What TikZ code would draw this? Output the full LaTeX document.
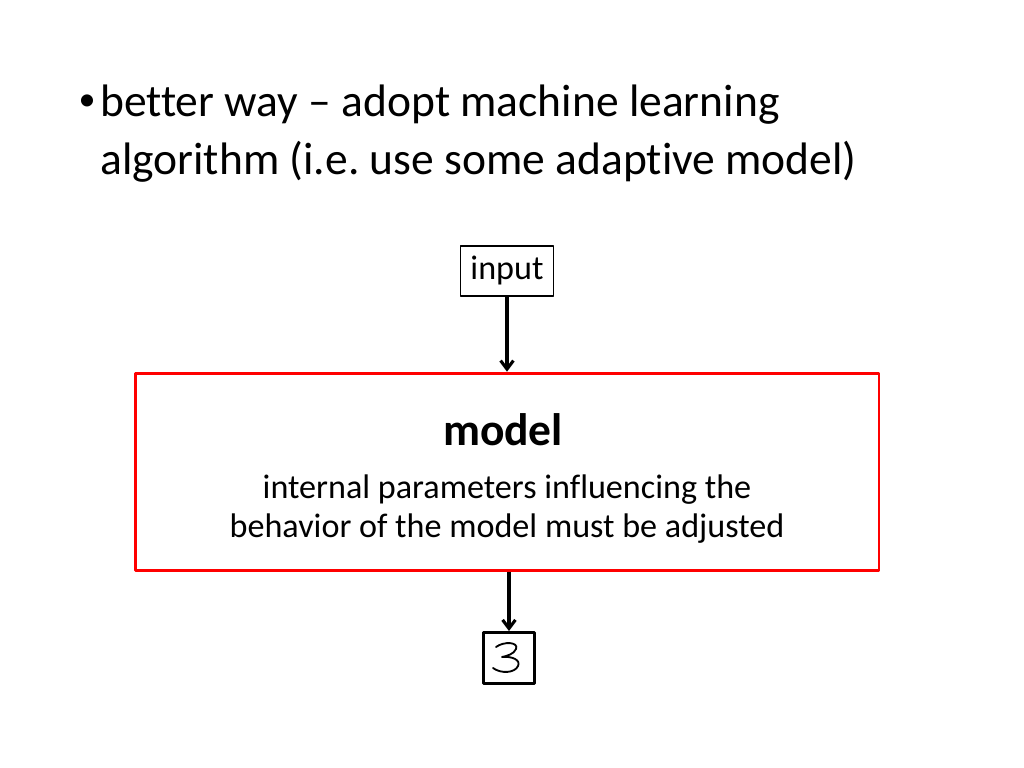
\documentclass[tikz,border=0pt]{standalone}
\usepackage{fontspec}
\setmainfont{Carlito}[Ligatures=NoCommon]
\usetikzlibrary{arrows.meta}
\frenchspacing
\begin{document}
\begin{tikzpicture}[x=0.703125pt,y=-0.703125pt,line join=round,
  >={Straight Barb[length=6pt,width=9pt]},
  bullettext/.style={anchor=base west,inner sep=0pt,font=\fontsize{32}{38}\selectfont},
  inbox/.style={draw,line width=1pt,minimum width=65.4pt,minimum height=35.2pt,inner sep=0pt,font=\fontsize{24}{28}\selectfont},
  modelbox/.style={draw=red,line width=2pt,minimum width=523pt,minimum height=139pt,inner sep=0pt},
  outbox/.style={draw,line width=2pt,minimum width=35.9pt,minimum height=35.9pt,inner sep=0pt},
  link/.style={->,line width=2.2pt}]
\useasboundingbox (0,0) rectangle (1024,768);
% bullet point
\node[inner sep=0pt,font=\fontsize{24}{28}\selectfont] (dot) at (87,103) {•};
\node[bullettext] (line1) at (100,117) {better way – adopt machine learning};
\node[bullettext] (line2) at (100,175) {algorithm (i.e. use some adaptive model)};
% diagram
\node[inbox] (input) at (507,271) {input};
\node[modelbox] (model) at (507,472) {};
\node[font=\fontsize{32}{38}\selectfont\bfseries] (title) at (503,430) {model};
\node[align=center,font=\fontsize{24}{27}\selectfont] (desc) at (507,509) {internal parameters influencing the\\behavior of the model must be adjusted};
\node[outbox] (out) at (509,658) {};
% handwritten digit
\draw[line width=1.3pt,line cap=round] (496,647) .. controls (504,641) and (519,642) .. (516,649)
  .. controls (514,654) and (507,656) .. (502,657)
  .. controls (512,656) and (521,660) .. (518,666)
  .. controls (515,673) and (501,674) .. (493,668);
\draw[link] (input.south) -- (model.north -| input.south);
\draw[link] (model.south -| out.north) -- (out.north);
\end{tikzpicture}
\end{document}
